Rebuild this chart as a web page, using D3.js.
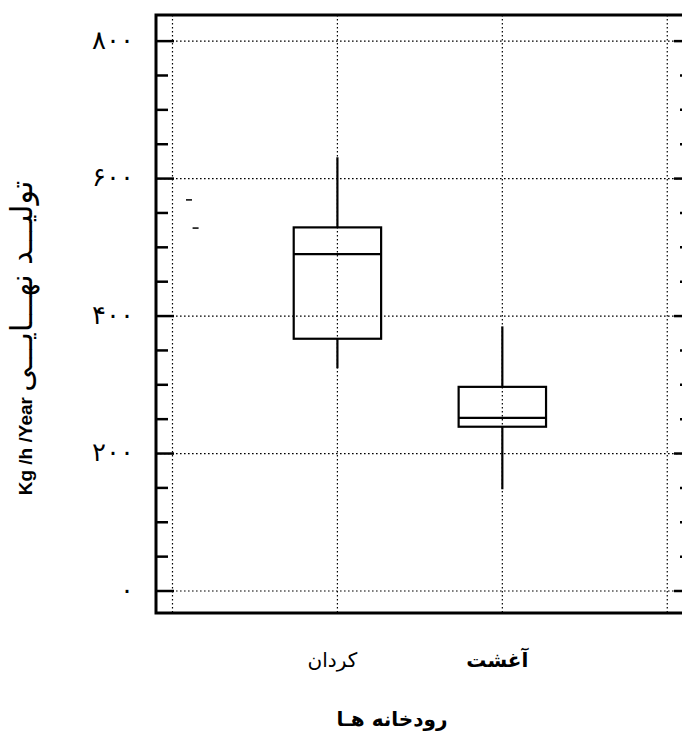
<!DOCTYPE html>
<html>
<head>
<meta charset="utf-8">
<script src="https://cdn.jsdelivr.net/npm/d3@7"></script>
<style>
body { margin: 0; background: #fff; }
svg { display: block; }
</style>
</head>
<body>
<svg id="chart" width="682" height="744"></svg>
<script>
// rivers (categories) and their box statistics, kg/h/year
var rivers = ["کردان", "آغشت"];
var riverPos = [1, 2];
var whiskerHigh = [631, 385];
var q3 = [529, 297];
var median = [490, 252];
var q1 = [367, 239];
var whiskerLow = [324, 148];

// two stray dash marks near the left edge
var strayPos = [0.1, 0.14];
var strayVal = [569, 528];

var yTickValues = [0, 200, 400, 600, 800];
var yTickLabels = ["۰", "۲۰۰", "۴۰۰", "۶۰۰", "۸۰۰"];
var xGridValues = [0, 1, 2, 3];

var plotLeft = 156, plotTop = 15, plotRight = 692, plotBottom = 613;

var svg = d3.select("#chart");

var x = d3.scaleLinear()
    .domain([-0.1, 3.15])
    .range([plotLeft, plotRight]);

var y = d3.scaleLinear()
    .domain([-32, 838])
    .range([plotBottom, plotTop]);

//dotted grid
var grid = svg.append("g").attr("class", "grid")
    .style("stroke", "#000")
    .style("stroke-width", 1.2)
    .style("stroke-dasharray", "1.6,2.4");

grid.selectAll(".hgrid")
    .data(yTickValues)
    .enter().append("line")
    .attr("class", "hgrid")
    .attr("x1", plotLeft)
    .attr("x2", plotRight)
    .attr("y1", function (d) { return y(d); })
    .attr("y2", function (d) { return y(d); });

grid.selectAll(".vgrid")
    .data(xGridValues)
    .enter().append("line")
    .attr("class", "vgrid")
    .attr("y1", plotTop)
    .attr("y2", plotBottom)
    .attr("x1", function (d) { return x(d); })
    .attr("x2", function (d) { return x(d); });

//inward ticks on left and right
var ticks = d3.range(0, 801, 50);

function tickLen(d) {
    return d % 200 == 0 ? 18 : 12;
}

svg.append("g")
    .selectAll("line")
    .data(ticks)
    .enter().append("line")
    .attr("x1", plotLeft)
    .attr("x2", function (d) { return plotLeft + tickLen(d); })
    .attr("y1", function (d) { return y(d); })
    .attr("y2", function (d) { return y(d); })
    .style("stroke", "#000")
    .style("stroke-width", 2.5);

svg.append("g")
    .selectAll("line")
    .data(ticks)
    .enter().append("line")
    .attr("x1", plotRight)
    .attr("x2", function (d) { return plotRight - tickLen(d); })
    .attr("y1", function (d) { return y(d); })
    .attr("y2", function (d) { return y(d); })
    .style("stroke", "#000")
    .style("stroke-width", 2.5);

//frame
svg.append("rect")
    .attr("x", plotLeft)
    .attr("y", plotTop)
    .attr("width", plotRight - plotLeft)
    .attr("height", plotBottom - plotTop)
    .style("fill", "none")
    .style("stroke", "#000")
    .style("stroke-width", 3);

//y tick labels in persian digits
svg.append("g")
    .selectAll("text")
    .data(yTickValues)
    .enter().append("text")
    .attr("x", 134)
    .attr("y", function (d) { return y(d); })
    .attr("dy", "0.3em")
    .attr("text-anchor", "end")
    .style("font-family", "DejaVu Sans")
    .style("font-size", "26px")
    .style("letter-spacing", "2px")
    .text(function (d, i) { return yTickLabels[i]; });

//boxes
var boxW = 0.53 * (x(1) - x(0));
var boxes = svg.append("g")
    .style("stroke", "#000")
    .style("fill", "none")
    .style("stroke-width", 2.2);

rivers.forEach(function (r, i) {
    var cx = x(riverPos[i]);
    boxes.append("line")
        .attr("x1", cx).attr("x2", cx)
        .attr("y1", y(whiskerHigh[i])).attr("y2", y(q3[i]));
    boxes.append("line")
        .attr("x1", cx).attr("x2", cx)
        .attr("y1", y(q1[i])).attr("y2", y(whiskerLow[i]));
    boxes.append("rect")
        .attr("x", cx - boxW / 2)
        .attr("y", y(q3[i]))
        .attr("width", boxW)
        .attr("height", y(q1[i]) - y(q3[i]));
    boxes.append("line")
        .attr("x1", cx - boxW / 2).attr("x2", cx + boxW / 2)
        .attr("y1", y(median[i])).attr("y2", y(median[i]));
});

svg.append("g")
    .selectAll("line")
    .data(strayVal)
    .enter().append("line")
    .attr("x1", function (d, i) { return x(strayPos[i]) - 3; })
    .attr("x2", function (d, i) { return x(strayPos[i]) + 3; })
    .attr("y1", function (d) { return y(d); })
    .attr("y2", function (d) { return y(d); })
    .style("stroke", "#000")
    .style("stroke-width", 1.5);

//category labels
svg.append("g")
    .selectAll("text")
    .data(rivers)
    .enter().append("text")
    .attr("x", function (d, i) { return x(riverPos[i]) - 5; })
    .attr("y", 667)
    .attr("text-anchor", "middle")
    .style("font-family", "DejaVu Sans")
    .style("font-size", "20px")
    .style("font-weight", function (d, i) { return i == 1 ? "bold" : "normal"; })
    .text(function (d) { return d; });

//axis titles
svg.append("text")
    .attr("x", 392)
    .attr("y", 726)
    .attr("text-anchor", "middle")
    .style("font-family", "DejaVu Sans")
    .style("font-size", "20px")
    .style("font-weight", "bold")
    .text("رودخانه هـا");

var ytitle = svg.append("text")
    .attr("transform", "translate(32,338) rotate(-90)")
    .attr("text-anchor", "middle")
    .attr("direction", "ltr");
ytitle.append("tspan")
    .style("font-family", "Liberation Sans, Arial")
    .style("font-size", "19px")
    .style("font-weight", "bold")
    .text("Kg /h /Year ");
ytitle.append("tspan")
    .style("font-family", "DejaVu Sans")
    .style("font-size", "30px")
    .text("تولیـــد نهـــایـــی");
</script>
</body>
</html>
